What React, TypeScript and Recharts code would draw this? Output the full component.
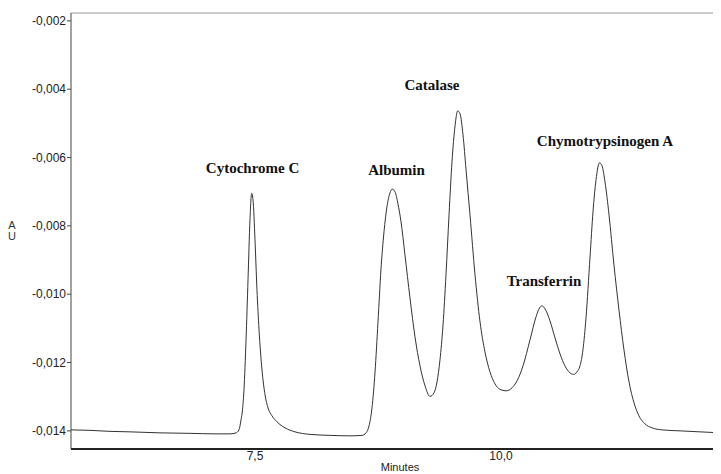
import React from "react";
import {
  LineChart,
  Line,
  XAxis,
  YAxis,
  ReferenceLine,
  ReferenceDot,
} from "recharts";

// Retention time (minutes)
const times: number[] = [
  5.63, 5.823, 6.026, 6.23, 6.535, 6.839, 7.093, 7.246, 7.307, 7.337,
  7.358, 7.373, 7.388, 7.409, 7.429, 7.449, 7.466, 7.48, 7.5, 7.52,
  7.541, 7.571, 7.602, 7.632, 7.673, 7.724, 7.805, 7.907, 8.059, 8.262,
  8.465, 8.587, 8.628, 8.659, 8.689, 8.72, 8.75, 8.78, 8.811, 8.841,
  8.872, 8.895, 8.923, 8.953, 8.984, 9.024, 9.075, 9.126, 9.177, 9.228,
  9.278, 9.319, 9.35, 9.38, 9.411, 9.441, 9.472, 9.502, 9.533, 9.56,
  9.584, 9.614, 9.645, 9.685, 9.736, 9.787, 9.837, 9.888, 9.939, 9.99,
  10.051, 10.112, 10.163, 10.224, 10.295, 10.356, 10.392, 10.417, 10.447, 10.498,
  10.549, 10.6, 10.65, 10.701, 10.737, 10.772, 10.803, 10.833, 10.864, 10.905,
  10.935, 10.966, 11.001, 11.027, 11.057, 11.098, 11.148, 11.199, 11.25, 11.301,
  11.352, 11.402, 11.463, 11.535, 11.636, 11.819, 12.022, 12.236,
];

// Absorbance (AU)
const absorbance: number[] = [
  -0.01397, -0.013984, -0.014014, -0.014028, -0.014058, -0.014072, -0.014087, -0.014087, -0.014058, -0.01397,
  -0.013677, -0.013384, -0.012799, -0.011336, -0.00958, -0.007824, -0.007048, -0.007239, -0.008409, -0.009873,
  -0.011043, -0.012214, -0.012945, -0.013326, -0.01356, -0.013736, -0.013911, -0.014028, -0.014102, -0.014131,
  -0.014145, -0.014131, -0.014058, -0.013853, -0.013326, -0.012272, -0.010809, -0.009287, -0.008175, -0.007443,
  -0.007034, -0.006925, -0.007004, -0.007356, -0.007882, -0.008848, -0.010107, -0.011248, -0.012097, -0.012682,
  -0.012989, -0.012887, -0.012565, -0.011921, -0.010897, -0.009434, -0.007678, -0.006127, -0.005073, -0.004634,
  -0.004722, -0.005336, -0.006361, -0.007678, -0.009434, -0.010809, -0.011687, -0.012272, -0.012623, -0.012785,
  -0.012828, -0.012741, -0.012536, -0.012097, -0.011336, -0.010663, -0.010399, -0.010341, -0.010429, -0.01078,
  -0.011277, -0.011746, -0.012097, -0.012302, -0.012346, -0.012272, -0.012097, -0.011629, -0.010692, -0.008907,
  -0.00759, -0.006653, -0.006156, -0.006244, -0.006712, -0.007678, -0.009141, -0.010458, -0.011629, -0.012565,
  -0.01318, -0.01356, -0.013794, -0.013911, -0.01397, -0.013999, -0.014028, -0.014058,
];

const xTicks: number[] = [7.5, 10.0];
const yTicks: number[] = [-0.002, -0.004, -0.006, -0.008, -0.01, -0.012, -0.014];

const peakNames: string[] = [
  "Cytochrome C",
  "Albumin",
  "Catalase",
  "Transferrin",
  "Chymotrypsinogen A",
];
const peakLabelTimes: number[] = [7.475, 8.938, 9.299, 10.437, 11.057];
const peakLabelValues: number[] = [-0.006302, -0.006361, -0.003873, -0.009609, -0.005512];

const X_DOMAIN: [number, number] = [5.63, 12.236];
const Y_DOMAIN: [number, number] = [-0.01453, -0.00177];

const data = times.map((t, i) => ({ t, v: absorbance[i] }));

const fmtX = (v: number) => v.toFixed(1).replace(".", ",");
const fmtY = (v: number) => v.toFixed(3).replace(".", ",");

const axisFont = "Arial, 'Liberation Sans', Helvetica, sans-serif";
const serifFont = "'Times New Roman', 'Liberation Serif', Times, serif";

const AULabel = () => (
  <text
    x={4}
    y={221}
    fontFamily={axisFont}
    fontSize={11}
    fill="#333"
    textAnchor="middle"
  >
    <tspan x={4} dy={0}>A</tspan>
    <tspan x={4} dy={11}>U</tspan>
  </text>
);

export default function App() {
  return (
    <div style={{ width: 713, height: 466 }}>
      <LineChart
        width={713}
        height={466}
        data={data}
        margin={{ top: 5, right: 0, bottom: 0, left: 0 }}
      >
        <XAxis
          type="number"
          dataKey="t"
          domain={X_DOMAIN}
          ticks={xTicks}
          tickFormatter={fmtX}
          allowDataOverflow
          height={25}
          tickLine={false}
          tickSize={0}
          tickMargin={2}
          axisLine={{ stroke: "#222", strokeWidth: 2 }}
          tick={{ fontFamily: axisFont, fontSize: 12, fill: "#222" }}
          label={{
            value: "Minutes",
            position: "insideBottom",
            offset: 3,
            dx: 4,
            style: { fontFamily: axisFont, fontSize: 11, fill: "#222" },
          }}
        />
        <YAxis
          type="number"
          domain={Y_DOMAIN}
          ticks={yTicks}
          tickFormatter={fmtY}
          allowDataOverflow
          width={63}
          tickSize={4}
          tickMargin={1}
          tickLine={{ stroke: "#444" }}
          axisLine={{ stroke: "#444", strokeWidth: 1 }}
          tick={{ fontFamily: axisFont, fontSize: 12, fill: "#222" }}
          label={{ content: () => <AULabel /> }}
        />
        <ReferenceLine y={Y_DOMAIN[1]} stroke="#999" strokeWidth={1} />
        <Line
          type="monotone"
          dataKey="v"
          stroke="#333"
          strokeWidth={1}
          dot={false}
          isAnimationActive={false}
        />
        {peakNames.map((name, i) => (
          <ReferenceDot
            key={name}
            x={peakLabelTimes[i]}
            y={peakLabelValues[i]}
            r={1}
            fill="none"
            stroke="none"
            label={{
              value: name,
              position: "center",
              style: {
                fontFamily: serifFont,
                fontSize: 15,
                fontWeight: "bold",
                fill: "#111",
              },
            }}
          />
        ))}
      </LineChart>
    </div>
  );
}
